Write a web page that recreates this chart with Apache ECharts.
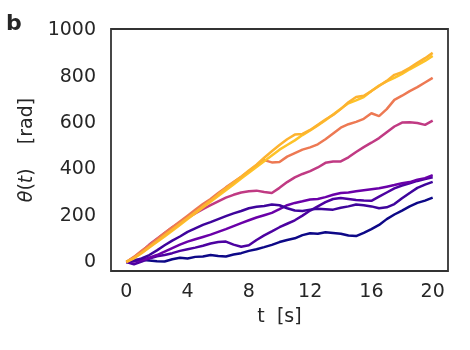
<!DOCTYPE html>
<html>
<head>
<meta charset="utf-8">
<title>Rotation angle over time</title>
<script src="https://cdn.jsdelivr.net/npm/echarts@6/dist/echarts.min.js"></script>
<style>
  html, body { margin: 0; padding: 0; background: #fff; }
  #chart { width: 470px; height: 350px; }
</style>
</head>
<body>
<div id="chart"></div>
<script>
// time samples, s
const TIMES = [
  0, 0.5, 1, 1.5, 2, 2.5, 3, 3.5, 4, 4.5, 5, 5.5, 6, 6.5, 7, 7.5, 8, 8.5, 9, 9.5,
  10, 10.5, 11, 11.5, 12, 12.5, 13, 13.5, 14, 14.5, 15, 15.5, 16, 16.5, 17, 17.5,
  18, 18.5, 19, 19.5, 20
]

// theta(t) per trajectory, rad
const THETA_NAVY = [
  0, 8, 10, 6, 3, 2, 12, 18, 15, 22, 24, 30, 26, 24, 32, 38, 48, 55, 64, 74,
  86, 95, 102, 116, 124, 122, 128, 125, 122, 114, 112, 126, 142, 160, 185, 205,
  222, 240, 255, 265, 278
]
const THETA_LOW = [
  0, -10, 2, 15, 25, 30, 38, 48, 55, 62, 70, 80, 86, 88, 75, 66, 72, 95, 115, 132,
  150, 165, 180, 200, 222, 240, 258, 272, 276, 272, 268, 265, 264, 282, 300, 318,
  330, 340, 350, 358, 366
]
const THETA_MID = [
  0, 2, 8, 18, 30, 45, 60, 75, 88, 98, 108, 118, 130, 142, 155, 168, 180, 192, 202, 212,
  228, 245, 255, 262, 270, 272, 280, 290, 298, 300, 305, 310, 314, 318, 325, 332,
  340, 345, 355, 362, 375
]
const THETA_FAST = [
  0, 5, 15, 30, 50, 72, 92, 110, 130, 145, 160, 172, 185, 198, 210, 220, 232, 238, 242, 248,
  245, 232, 222, 220, 226, 230, 228, 226, 234, 240, 248, 245, 240, 232, 236, 250,
  275, 298, 320, 334, 346
]
const THETA_MAGENTA = [
  0, 20, 45, 75, 100, 125, 150, 170, 190, 210, 228, 245, 262, 278, 290, 300, 305, 308, 302, 298,
  320, 345, 365, 380, 392, 408, 428, 434, 434, 452, 475, 496, 515, 535, 560, 585,
  602, 603, 600, 592, 610
]
const THETA_CORAL = [
  0, 22, 48, 72, 98, 125, 150, 175, 200, 225, 250, 272, 298, 322, 345, 368, 392, 418, 440, 430,
  432, 455, 470, 485, 495, 508, 530, 555, 580, 595, 605, 618, 642, 630, 660, 700,
  718, 738, 755, 775, 795
]
const THETA_YELLOW_B = [
  0, 16, 38, 62, 86, 110, 135, 160, 185, 210, 235, 260, 285, 310, 335, 360, 385, 410, 435, 460,
  485, 505, 525, 548, 568, 590, 612, 637, 662, 685, 698, 712, 738, 762, 780, 795,
  812, 832, 850, 868, 890
]
const THETA_YELLOW_A = [
  0, 18, 40, 65, 90, 115, 140, 165, 190, 215, 240, 265, 292, 318, 343, 368, 395, 420, 450, 478,
  505, 530, 550, 553, 570, 592, 615, 635, 660, 690, 712, 718, 738, 760, 782, 808,
  820, 838, 860, 880, 903
]

const X_TICKS = [0, 4, 8, 12, 16, 20]
const Y_TICKS = [0, 200, 400, 600, 800, 1000]

// drawn in this order, last on top
const TRAJECTORIES = [
  { values: THETA_NAVY, color: '#0d0887' },
  { values: THETA_LOW, color: '#4c02a1' },
  { values: THETA_MID, color: '#6a00a8' },
  { values: THETA_FAST, color: '#3e049c' },
  { values: THETA_MAGENTA, color: '#c03a83' },
  { values: THETA_CORAL, color: '#ed7953' },
  { values: THETA_YELLOW_B, color: '#fdc328' },
  { values: THETA_YELLOW_A, color: '#fdb32f' }
]

const TEXT_COLOR = '#262626'
const FONT = 'DejaVu Sans'

const buildSeries = () =>
  TRAJECTORIES.map(({ values, color }) => ({
    type: 'line',
    data: TIMES.map((t, i) => [t, values[i]]),
    showSymbol: false,
    symbol: 'none',
    lineStyle: { color, width: 2.5 },
    emphasis: { disabled: true }
  }))

const chart = echarts.init(document.getElementById('chart'), null, { renderer: 'canvas' })

chart.setOption({
  animation: false,
  backgroundColor: '#fff',
  textStyle: { fontFamily: FONT, color: TEXT_COLOR },
  grid: {
    left: 111,
    right: 22,
    top: 29,
    bottom: 79,
    show: true,
    borderColor: '#333',
    borderWidth: 1.8,
    outerBoundsMode: 'none'
  },
  graphic: [
    {
      type: 'text',
      left: 6,
      top: 13,
      style: { text: 'b', fontFamily: FONT, fontSize: 22, fontWeight: 'bold', fill: TEXT_COLOR }
    }
  ],
  xAxis: {
    type: 'value',
    min: -1,
    max: 21,
    name: 't  [s]',
    nameLocation: 'middle',
    nameGap: 37,
    nameTextStyle: { fontFamily: FONT, fontSize: 19, color: TEXT_COLOR },
    axisLine: { show: false },
    axisTick: { show: false },
    splitLine: { show: false },
    axisLabel: {
      customValues: X_TICKS,
      formatter: (v) => String(v),
      margin: 12,
      fontFamily: FONT,
      fontSize: 19,
      color: TEXT_COLOR
    }
  },
  yAxis: {
    type: 'value',
    min: -39,
    max: 1006,
    name: '{it|θ}({it|t})    [rad]',
    nameLocation: 'middle',
    nameGap: 59,
    nameRotate: 90,
    nameTextStyle: {
      fontFamily: FONT,
      fontSize: 19,
      color: TEXT_COLOR,
      rich: {
        it: { fontFamily: FONT, fontSize: 19, fontStyle: 'italic', color: TEXT_COLOR }
      }
    },
    axisLine: { show: false },
    axisTick: { show: false },
    splitLine: { show: false },
    axisLabel: {
      customValues: Y_TICKS,
      formatter: (v) => String(v),
      margin: 15,
      fontFamily: FONT,
      fontSize: 19,
      color: TEXT_COLOR
    }
  },
  series: buildSeries()
})
</script>
</body>
</html>
